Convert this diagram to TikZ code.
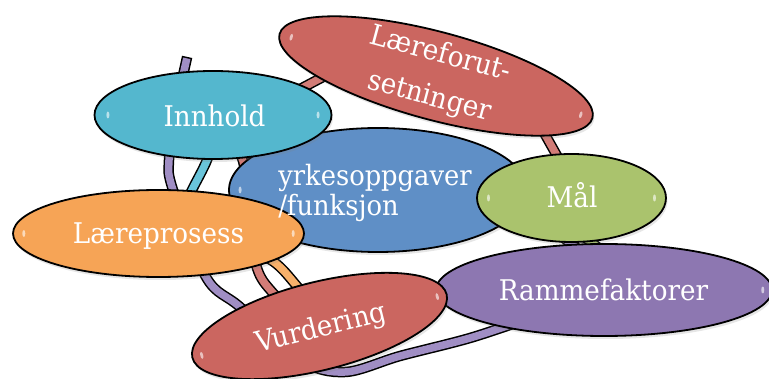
\documentclass[tikz,border=0pt]{standalone}
\usepackage{fontspec}
\setmainfont{DejaVu Serif}[FakeStretch=0.92]
\usetikzlibrary{calc,shapes.geometric,shadows}
\pgfdeclarelayer{bg}
\pgfsetlayers{bg,main}

\definecolor{cInn}{RGB}{84,183,206}
\definecolor{cRed}{RGB}{203,102,96}
\definecolor{cBlue}{RGB}{95,143,198}
\definecolor{cGreen}{RGB}{170,195,109}
\definecolor{cPurp}{RGB}{141,119,177}
\definecolor{cOrange}{RGB}{246,164,86}
\definecolor{tPurp}{RGB}{160,142,196}
\definecolor{tCyan}{RGB}{105,196,218}
\definecolor{tRed}{RGB}{210,124,119}
\definecolor{tOrange}{RGB}{247,176,106}
\definecolor{tGreen}{RGB}{168,196,110}

\tikzset{
  blob/.style={ellipse, draw=black, line width=1.8pt, fill=#1, inner sep=0pt,
    drop shadow={shadow xshift=1.5pt, shadow yshift=-3pt, opacity=0.2}},
  lbl/.style={text=white, font=\fontsize{28.5}{30}\selectfont, inner sep=0pt},
  tube/.style={draw=black, line width=1.5pt, double=#1, double distance=7.5pt, line cap=rect},
  glint/.style={ellipse, fill=white, opacity=0.6, minimum width=3pt, minimum height=7pt, inner sep=0pt},
}
\newcommand{\glint}[4]{%
  \node[glint, rotate=#3] (#1-g#2) at ($(#1.center)!#4!(#1.#2)$) {};}

\begin{document}
\begin{tikzpicture}[x=1pt,y=1pt]
\useasboundingbox (0,0) rectangle (769,-379);
\clip (0,0) rectangle (769,-379);

% ellipses, each with its glints
\node[blob=cBlue, minimum width=298pt, minimum height=124pt] (core) at (378,-190) {};
\glint{core}{west}{0}{0.92}
\node[blob=cInn, minimum width=237pt, minimum height=88pt] (inn) at (213,-115) {};
\glint{inn}{west}{0}{0.88}\glint{inn}{east}{0}{0.88}
\node[blob=cOrange, minimum width=291pt, minimum height=87pt] (lp) at (158.5,-233.5) {};
\glint{lp}{west}{0}{0.92}\glint{lp}{east}{0}{0.92}
\node[blob=cGreen, minimum width=189pt, minimum height=88pt] (maal) at (571.5,-198) {};
\glint{maal}{west}{0}{0.87}\glint{maal}{east}{0}{0.87}
\node[blob=cRed, minimum width=324pt, minimum height=88pt, rotate=-15] (lf) at (436,-76) {};
\glint{lf}{west}{-15}{0.92}\glint{lf}{east}{-15}{0.92}
\node[blob=cPurp, minimum width=336pt, minimum height=92pt] (ramme) at (604,-290) {};
\glint{ramme}{east}{0}{0.94}
\node[blob=cRed, minimum width=262pt, minimum height=88pt, rotate=14] (vurd) at (319.5,-326) {};
\glint{vurd}{west}{14}{0.92}\glint{vurd}{east}{14}{0.92}

% labels
\node[lbl, anchor=base] (t-inn) at (214.5,-127) {Innhold};
\node[lbl, anchor=base] (t-lp) at (158.5,-244) {Læreprosess};
\node[lbl, anchor=base] (t-maal) at (572,-208) {Mål};
\node[lbl, anchor=base] (t-ramme) at (603.5,-301) {Rammefaktorer};
\node[lbl, align=left, font=\fontsize{28}{30}\selectfont] (t-core) at (375,-193) {yrkesoppgaver\\/funksjon};
\node[lbl, align=center, rotate=-15] (t-lf) at (435,-76) {Læreforut-\\[14pt]setninger};
\node[lbl, rotate=14] (t-vurd) at (321,-329) {Vurdering};

% tubes
\coordinate (ptop) at (186,-62);
\begin{pgfonlayer}{bg}
\draw[tube=tPurp] plot[smooth, tension=0.55] coordinates {
  (ptop) ($(inn)+(-37,5)$) ($(inn)+(-44,-45)$) ($(lp)+(14.5,43.5)$)
  ($(lp)+(47.5,-43.5)$) ($(vurd)+(-79.5,19)$) ($(vurd)+(-19.5,-34)$)
  ($(vurd)+(25.5,-46)$) ($(ramme)+(-204,-66)$) ($(ramme)+(-134,-48)$)
  ($(ramme)+(-74,-28)$)};
\draw[tube=tRed] plot[smooth, tension=0.55] coordinates {
  ($(inn)+(15,-20)$) ($(inn)+(30,-46)$) ($(lp)+(90.5,18.5)$)
  ($(lp)+(98.5,-34.5)$) ($(vurd)+(-46.5,33)$) ($(vurd)+(-19.5,8)$)};
\draw[tube=tOrange] plot[smooth, tension=0.55] coordinates {
  ($(lp)+(81.5,-11.5)$) ($(lp)+(115.5,-28.5)$) ($(vurd)+(-23.5,41)$) ($(vurd)+(-4.5,16)$)};
\draw[tube=tCyan] plot[smooth, tension=0.55] coordinates {
  ($(inn)+(3,-15)$) ($(inn)+(-6,-45)$) ($(lp)+(33.5,43.5)$) ($(lp)+(21.5,18.5)$)};
\draw[tube=tRed] ($(inn)+(72,18)$) -- ($(lf)+(-96,8)$);
\draw[tube=tRed] ($(lf)+(102,-46)$) -- ($(maal)+(-6.5,28)$);
\draw[tube=tPurp] ($(maal)+(-15.5,-34)$) -- ($(ramme)+(-17,34)$);
\draw[tube=tGreen] ($(maal)+(6.5,-34)$) -- ($(ramme)+(5,34)$);
\end{pgfonlayer}
\end{tikzpicture}
\end{document}
